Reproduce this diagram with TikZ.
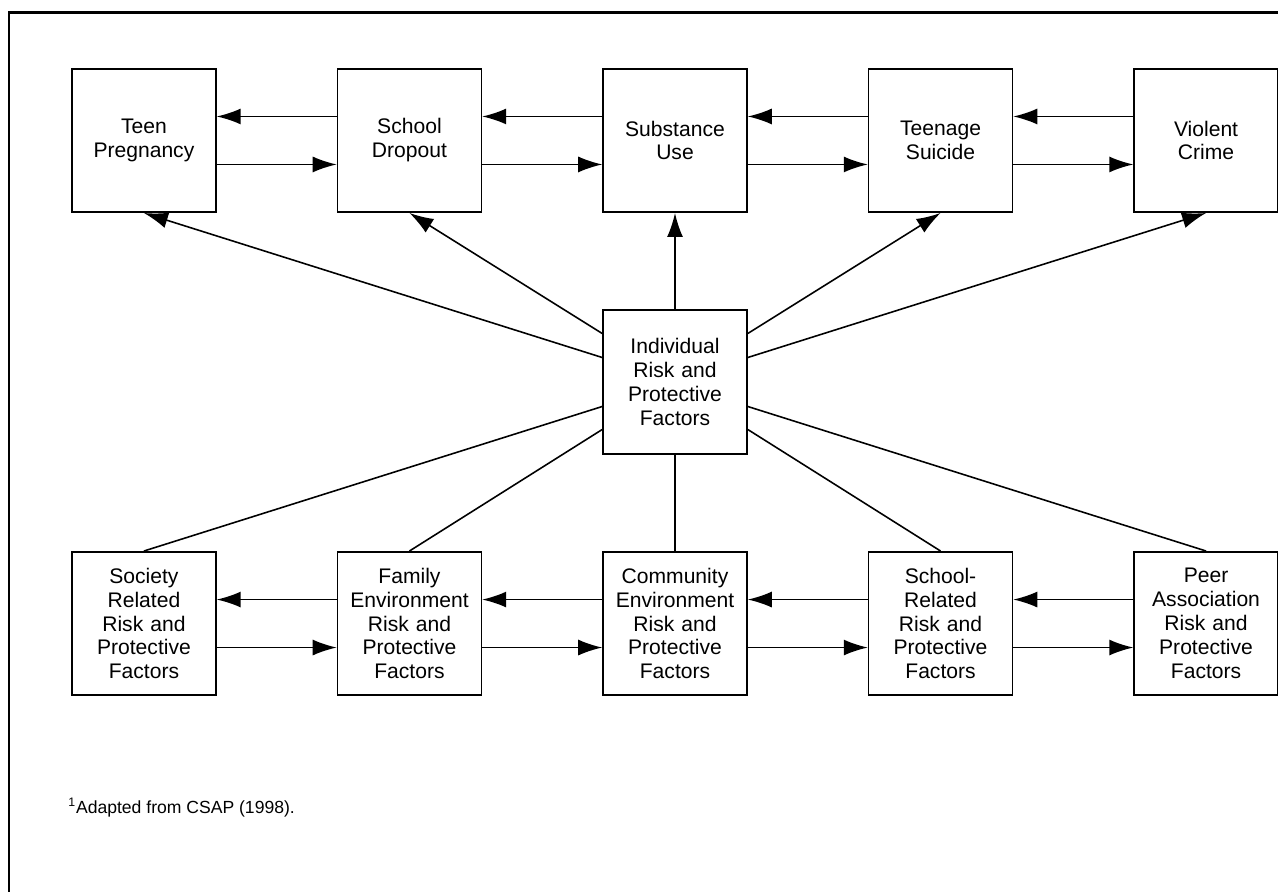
\documentclass[tikz,border=0pt]{standalone}
\usepackage{fontspec}
\setmainfont{Liberation Sans}
\usetikzlibrary{arrows.meta,matrix,positioning}

\begin{document}
\begin{tikzpicture}[x=0.02cm,y=-0.02cm,ampersand replacement=\&,
  box/.style={rectangle,draw,line width=0.9pt,minimum width=2.88cm,minimum height=2.87cm,
    text width=2.7cm,align=center,inner sep=0pt,font=\fontsize{12}{13.6}\selectfont},
  line/.style={draw,line width=0.9pt,-{Latex[length=0.48cm,width=0.32cm]}},
  link/.style={draw,line width=0.9pt}]

  \useasboundingbox (0,0) rectangle (1278,892);
  % page frame
  \draw[line width=1.7pt] (9,892) -- (9,12.5) -- (1278,12.5);

  \matrix [column sep=2.4cm,row sep=1.93cm] at (675,382) {
    \node [box] (preg) {Teen\\Pregnancy}; \&
    \node [box] (drop) {School\\Dropout}; \&
    \node [box] (subst) {Substance\\Use}; \&
    \node [box] (suic) {Teenage\\Suicide}; \&
    \node [box] (crime) {Violent\\Crime}; \\
    \& \& \node [box] (indiv) {Individual\\Risk and\\Protective\\Factors}; \& \& \\
    \node [box] (soc) {Society\\Related\\Risk and\\Protective\\Factors}; \&
    \node [box] (fam) {Family\\Environment\\Risk and\\Protective\\Factors}; \&
    \node [box] (comm) {Community\\Environment\\Risk and\\Protective\\Factors}; \&
    \node [box] (schl) {School-\\Related\\Risk and\\Protective\\Factors}; \&
    \node [box] (peer) {Peer\\Association\\Risk and\\Protective\\Factors}; \\
  };

  % two-way arrows along the rows
  \foreach \a/\b in {drop/preg,subst/drop,suic/subst,crime/suic,fam/soc,comm/fam,schl/comm,peer/schl} {
    \draw[line] ([yshift=0.48cm]\a.west) -- ([yshift=0.48cm]\b.east);
    \draw[line] ([yshift=-0.48cm]\b.east) -- ([yshift=-0.48cm]\a.west);
  }

  % individual factors to outcomes
  \draw[line] ([yshift=0.49cm]indiv.west) -- (preg.south);
  \draw[line] ([yshift=0.97cm]indiv.west) -- (drop.south);
  \draw[line] (indiv.north) -- (subst.south);
  \draw[line] ([yshift=0.97cm]indiv.east) -- (suic.south);
  \draw[line] ([yshift=0.49cm]indiv.east) -- (crime.south);

  % domains to individual factors
  \draw[link] ([yshift=-0.49cm]indiv.west) -- (soc.north);
  \draw[link] ([yshift=-0.95cm]indiv.west) -- (fam.north);
  \draw[link] (indiv.south) -- (comm.north);
  \draw[link] ([yshift=-0.95cm]indiv.east) -- (schl.north);
  \draw[link] ([yshift=-0.49cm]indiv.east) -- (peer.north);

  \node[anchor=base west,inner sep=0pt,font=\fontsize{10}{12}\selectfont] (note) at (68,813)
    {\textsuperscript{1}Adapted from CSAP (1998).};
\end{tikzpicture}
\end{document}
